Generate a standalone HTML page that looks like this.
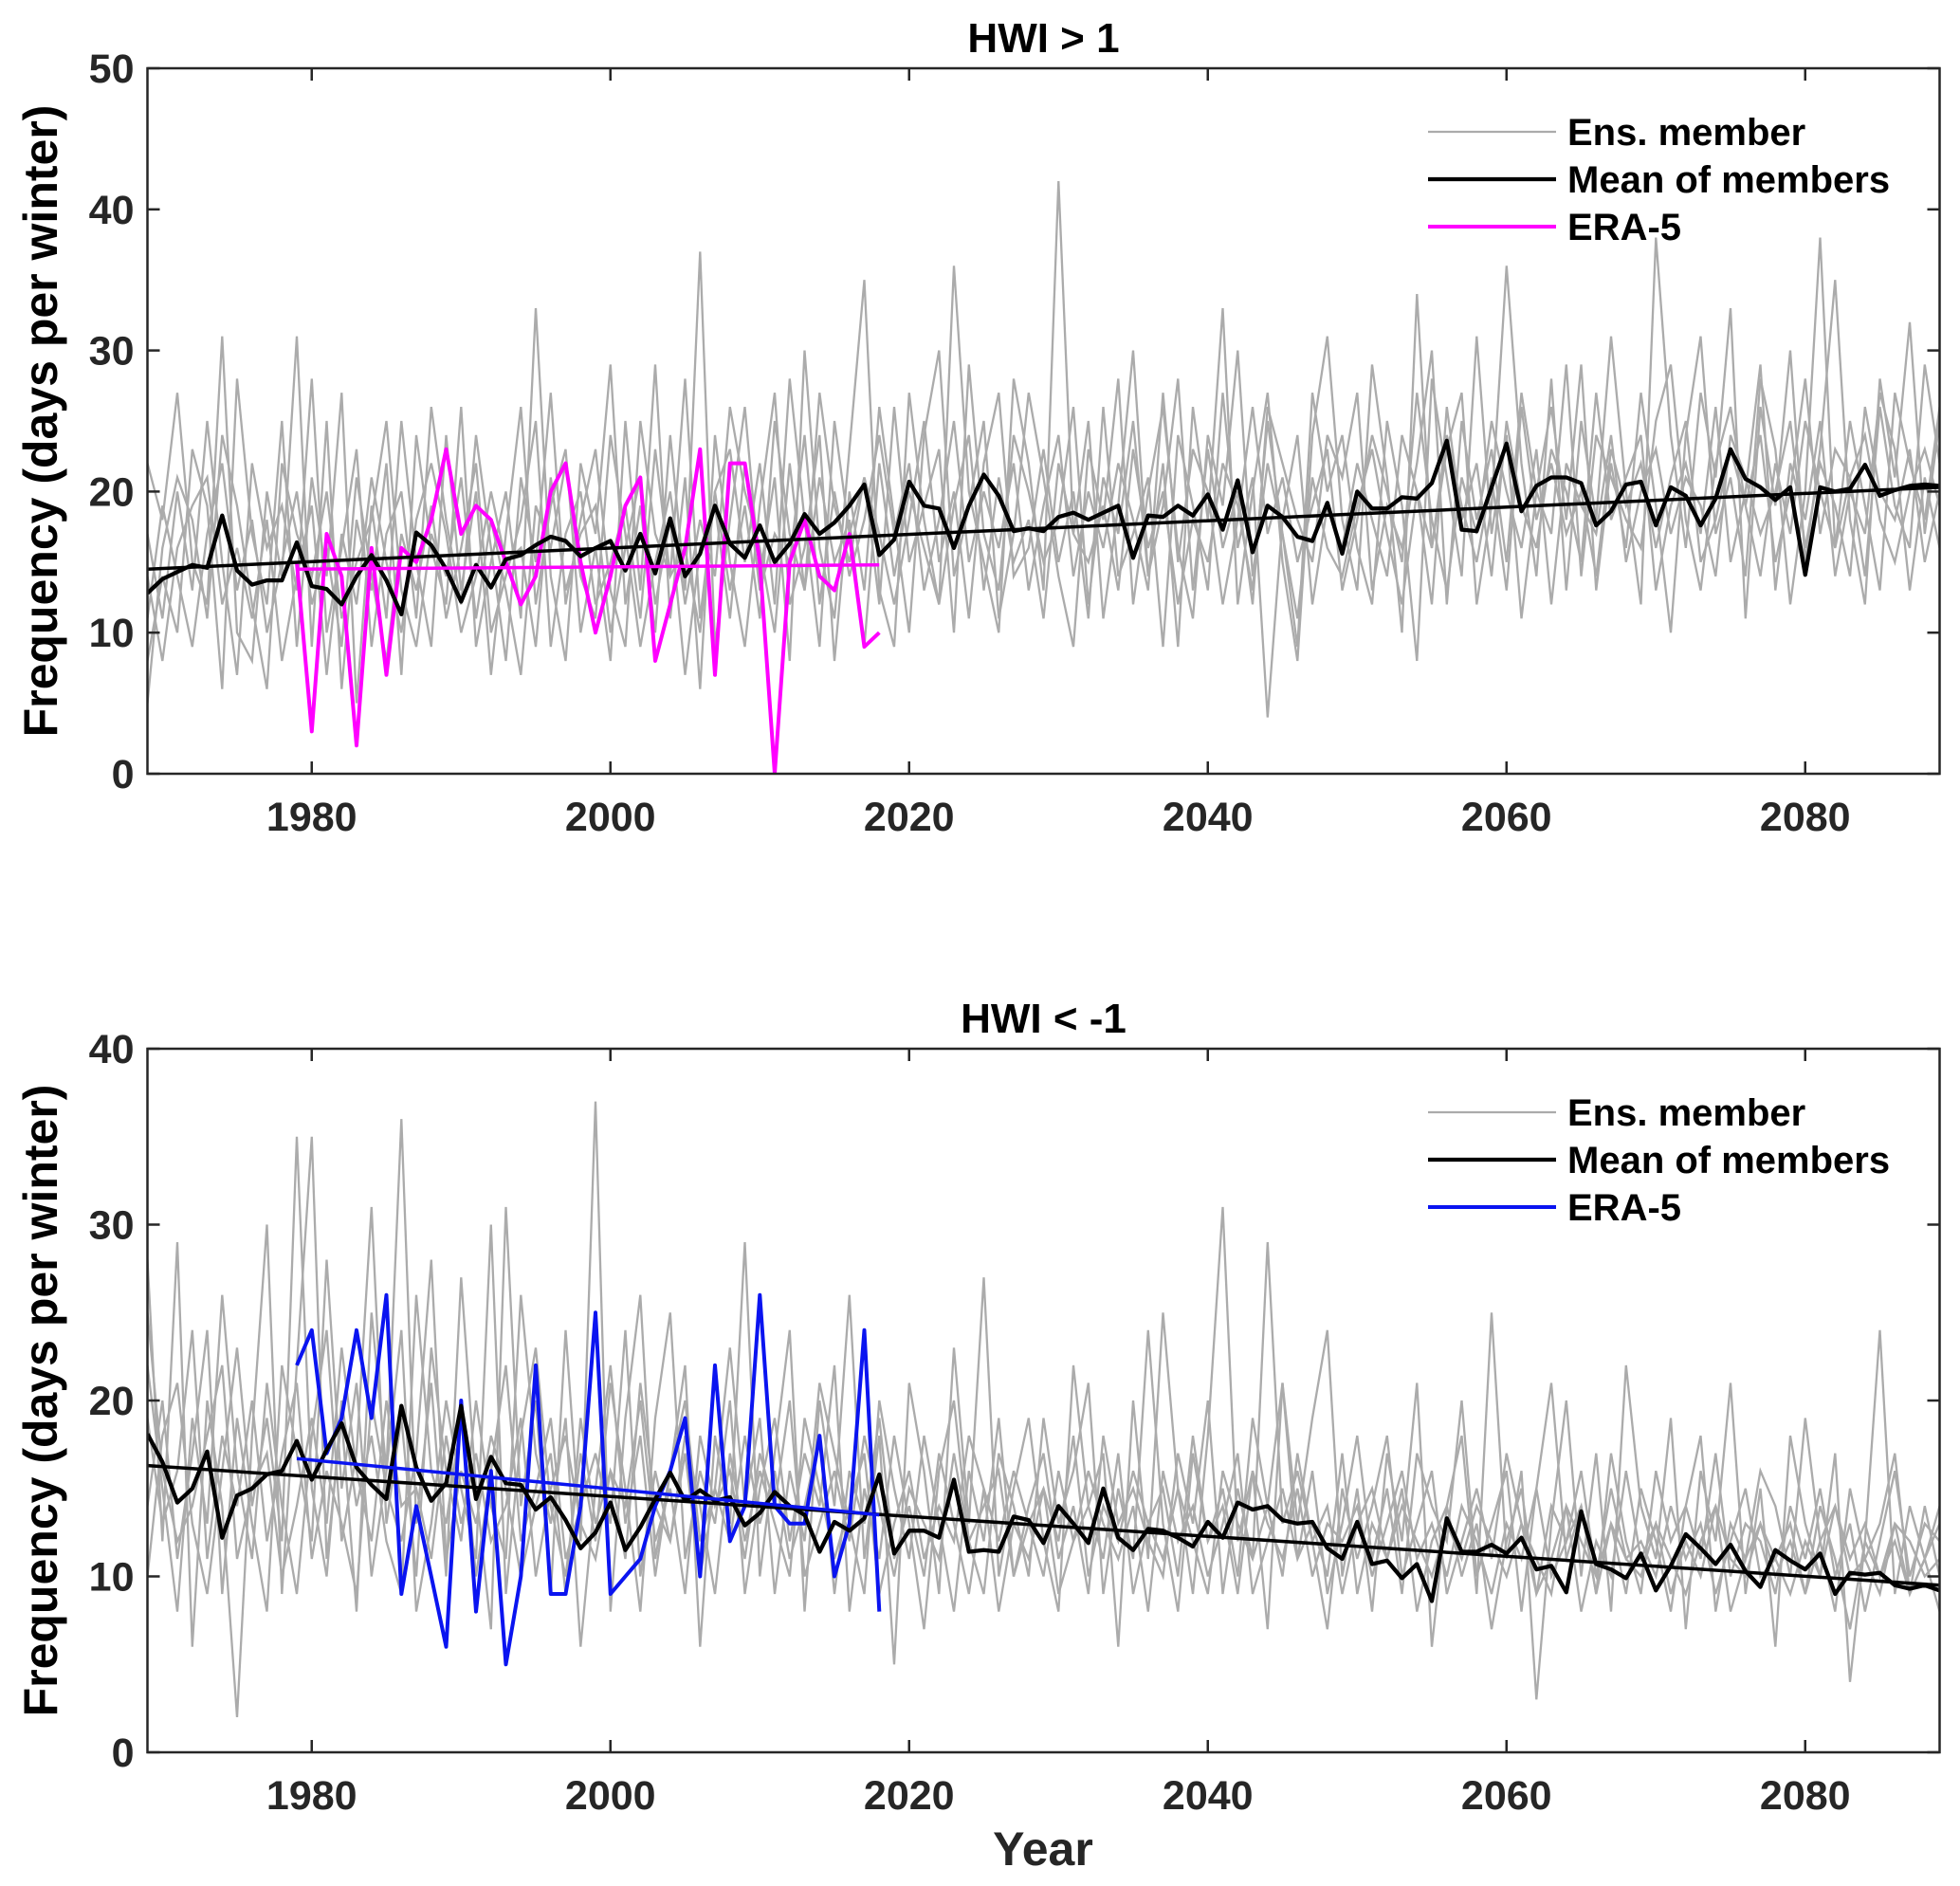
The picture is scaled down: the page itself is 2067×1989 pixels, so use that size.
<!DOCTYPE html>
<html><head><meta charset="utf-8">
<style>
html,body{margin:0;padding:0;background:#fff;}
svg{display:block;font-family:"Liberation Sans",Arial,sans-serif;font-weight:bold;}
</style></head>
<body>
<svg id="chart" width="2067" height="1989" viewBox="0 0 2067 1989" xmlns="http://www.w3.org/2000/svg">
<g id="top"></g>
<g id="bot"></g>
</svg>
<script>
// ---------- data ----------
const startYear = 1969;
const xTicks = [1980, 2000, 2020, 2040, 2060, 2080];
const topYTicks = [0, 10, 20, 30, 40, 50];
const botYTicks = [0, 10, 20, 30, 40];

const topMean = [
12.8,13.8,14.3,14.8,14.6,18.3,14.4,13.4,13.7,13.7,
16.4,13.3,13.1,12.0,14.0,15.5,13.7,11.3,17.1,16.2,
14.5,12.2,14.8,13.2,15.2,15.5,16.2,16.8,16.5,15.4,
16.0,16.5,14.4,17.0,14.2,18.1,14.0,15.6,19.0,16.3,
15.3,17.6,15.0,16.3,18.4,17.0,17.8,19.0,20.5,15.5,
16.6,20.7,19.0,18.8,16.0,19.0,21.2,19.7,17.2,17.4,
17.2,18.2,18.5,18.0,18.5,19.0,15.3,18.3,18.2,19.0,
18.3,19.8,17.3,20.8,15.7,19.0,18.2,16.8,16.5,19.2,
15.6,20.0,18.8,18.8,19.6,19.5,20.6,23.6,17.3,17.2,
20.3,23.4,18.6,20.4,21.0,21.0,20.6,17.6,18.6,20.5,
20.7,17.6,20.3,19.7,17.6,19.5,23.0,20.9,20.3,19.4,
20.3,14.1,20.3,20.0,20.2,21.9,19.7,20.1,20.4,20.5,20.4];
const topEraStart = 1979;
const topEra = [15,3,17,14,2,16,7,16,15,18,23,17,19,18,15,12,14,20,22,15,10,14,19,21,8,12,16,23,7,22,22,15,0,15,18,14,13,17,9,10];
const topMeanTrend = [14.5, 20.3];
const topEraTrend = [14.5, 14.8];

const topM1 = [22,18,27,15,12,31,10,8,20,14,31,9,25,6,18,13,22,7,24,16,
12,26,9,15,20,11,33,14,8,22,17,29,12,19,10,24,13,37,9,18,
26,14,21,8,30,16,11,23,35,13,9,27,18,12,36,20,15,10,28,22,
13,42,17,25,11,19,30,14,22,9,26,18,33,12,20,27,15,8,24,31,
18,13,29,21,10,34,16,23,27,12,19,36,22,14,28,13,25,18,31,20,
12,38,24,16,27,21,33,11,26,19,30,15,23,35,18,12,28,21,32,17,25];
const topM2 = [8,14,10,23,19,6,28,17,12,25,9,21,14,27,5,19,11,25,15,9,
24,13,20,7,17,26,12,19,23,10,16,8,25,13,29,11,21,6,24,15,
9,19,27,12,16,24,8,20,13,26,18,10,24,30,14,19,25,11,17,27,
21,14,9,23,18,28,12,20,26,16,11,24,19,30,14,22,17,9,27,20,
24,16,12,25,19,8,28,21,14,31,17,24,11,20,26,18,29,13,22,16,
27,19,10,24,31,17,21,14,28,23,12,20,38,16,25,19,13,27,22,18,26];
const topM3 = [17,11,20,13,25,15,7,22,16,19,13,28,10,16,23,9,17,20,11,26,
18,12,24,16,8,21,15,27,12,18,23,13,9,25,17,14,28,11,20,23,
15,22,12,28,18,9,25,17,21,12,26,15,19,23,10,29,17,13,24,20,
15,18,26,12,21,17,25,14,19,28,13,23,16,20,12,26,22,18,15,24,
21,27,13,19,16,22,30,12,25,18,23,15,27,20,17,29,14,24,21,18,
16,25,29,18,13,22,26,19,24,15,20,28,17,23,21,14,26,19,16,29,22];
const topM4 = [11,19,14,9,17,22,13,18,10,15,20,12,16,9,21,14,8,17,13,19,
11,16,22,10,14,18,25,9,17,20,12,15,19,11,23,14,16,10,20,13,
19,11,25,17,13,21,15,18,9,22,14,20,16,12,19,24,13,21,15,18,
11,22,17,15,19,13,23,16,20,12,18,15,22,19,13,25,17,11,21,16,
14,19,23,17,12,20,16,24,19,15,21,13,26,18,22,17,20,14,23,19,
22,16,21,25,15,18,23,19,14,22,17,25,20,16,21,24,18,15,20,23,19];
const topM5 = [5,16,21,18,11,24,19,12,6,22,17,14,20,11,15,18,25,13,9,17,
14,21,11,18,13,7,19,16,22,14,11,24,17,9,15,20,12,18,14,26,
20,16,10,22,13,27,19,15,21,17,12,18,25,15,20,11,22,27,14,16,
23,15,20,11,26,14,17,21,9,24,19,13,27,16,21,4,18,24,12,19,
16,22,18,14,24,20,12,26,18,22,14,25,19,16,23,20,15,27,18,21,
24,13,19,22,17,26,15,20,29,13,22,18,25,14,20,17,27,23,13,21,16];
const topM6 = [14,8,16,19,21,12,16,11,18,8,14,19,7,17,12,21,15,10,18,22,
17,10,14,20,15,16,9,21,13,17,19,10,16,21,12,18,7,16,19,11,
22,13,17,15,24,12,20,14,18,24,17,22,13,18,25,15,20,16,22,13,
19,24,14,20,16,22,18,13,27,15,23,20,12,18,26,17,21,15,19,23,
13,18,24,20,15,27,18,13,21,17,25,20,16,23,12,22,19,17,24,15,
20,23,17,21,19,14,24,21,17,20,25,16,22,19,14,26,20,18,23,15,20];
const topMembers = [topM1, topM2, topM3, topM4, topM5, topM6];

const botMean = [
18.1,16.5,14.2,15.0,17.1,12.2,14.6,15.0,15.8,16.0,
17.7,15.5,17.2,18.7,16.2,15.2,14.4,19.7,16.2,14.3,
15.3,19.7,14.4,16.8,15.3,15.2,13.8,14.5,13.2,11.6,
12.5,14.2,11.5,12.8,14.4,15.9,14.3,14.9,14.3,14.5,
12.9,13.6,14.8,14.0,13.5,11.4,13.1,12.6,13.3,15.8,
11.3,12.6,12.6,12.2,15.5,11.4,11.5,11.4,13.4,13.2,
11.9,14.0,13.0,11.9,15.0,12.2,11.5,12.7,12.6,12.2,
11.7,13.1,12.2,14.2,13.8,14.0,13.2,13.0,13.1,11.6,
11.0,13.1,10.7,10.9,9.9,10.7,8.6,13.3,11.4,11.4,
11.8,11.3,12.2,10.4,10.6,9.1,13.7,10.7,10.4,9.9,
11.3,9.2,10.6,12.4,11.6,10.7,11.8,10.3,9.4,11.5,
10.9,10.4,11.3,9.0,10.2,10.1,10.2,9.5,9.3,9.5,9.2];
const botEraStart = 1979;
const botEra = [22,24,17,19,24,19,26,9,14,10,6,20,8,16,5,10,22,9,9,14,25,9,10,11,14,16,19,10,22,12,14,26,14,13,13,18,10,13,24,8];
const botMeanTrend = [16.3, 9.5];
const botEraTrend = [16.7, 13.5];

const botM1 = [28,12,29,6,20,14,2,18,30,9,22,35,11,19,8,25,16,36,13,21,
10,27,15,7,31,14,20,9,24,12,37,8,19,26,11,16,22,6,18,13,
29,10,17,24,8,20,14,26,11,18,5,21,16,9,23,13,27,10,15,19,
12,8,22,14,17,6,20,11,25,15,9,18,31,12,16,7,21,13,19,24,
10,15,8,17,12,21,6,14,18,9,25,11,16,3,13,20,10,17,8,22,
14,11,19,7,16,12,21,9,15,6,18,13,10,17,4,12,24,9,14,11,8];
const botM2 = [14,20,11,17,24,9,19,13,8,22,17,12,28,15,21,10,16,24,8,13,
20,15,11,30,9,18,23,14,10,17,12,21,15,8,19,25,11,16,13,20,
9,15,19,12,17,14,22,8,15,11,18,13,7,16,20,12,9,17,14,10,
19,13,16,21,9,15,11,24,13,8,17,12,15,10,19,14,21,11,16,9,
13,18,11,15,9,17,14,12,20,10,13,16,8,15,21,11,14,9,17,12,
9,16,12,14,18,8,13,11,16,14,10,19,12,8,15,11,13,17,9,14,10];
const botM3 = [22,15,8,19,13,26,16,11,21,14,9,18,24,12,17,31,13,19,10,23,
16,12,20,14,11,26,17,13,19,6,15,22,13,18,10,16,20,12,15,23,
14,19,9,16,12,21,17,13,9,20,15,11,18,13,8,16,12,19,10,14,
17,11,14,9,18,13,15,12,10,17,13,20,9,15,11,29,13,16,12,7,
15,11,14,18,10,13,16,9,12,15,11,17,13,9,14,12,16,10,13,9,
15,12,8,14,11,17,10,13,12,9,14,11,15,10,13,8,12,16,10,13,12];
const botM4 = [10,18,21,13,9,16,23,14,19,12,35,15,10,20,14,18,12,9,26,16,
13,19,10,16,22,12,15,19,11,14,17,13,24,10,16,12,18,14,9,17,
12,16,13,10,19,15,11,14,17,9,13,16,11,14,12,18,15,8,13,11,
15,9,12,16,13,11,14,8,16,12,14,10,13,17,9,12,15,11,13,10,
17,9,13,11,15,8,12,14,10,13,7,12,15,9,11,14,8,12,10,16,
11,13,9,12,10,14,8,11,13,10,12,9,14,11,7,12,10,13,9,11,14];
const botM5 = [19,13,16,24,11,18,14,20,12,17,21,11,16,13,9,20,15,12,17,28,
11,16,13,18,15,10,14,17,9,19,13,16,11,21,14,12,17,10,15,12,
18,13,16,11,14,18,9,16,13,19,11,14,10,17,13,9,15,12,16,13,
10,16,12,14,11,17,9,13,15,10,18,12,14,9,16,13,11,15,10,13,
12,14,10,13,16,11,13,10,14,12,9,13,11,15,10,12,14,9,13,11,
12,10,14,11,13,9,12,15,10,11,13,9,12,14,10,11,9,13,12,10,11];
const botM6 = [25,16,12,14,18,22,11,15,17,10,14,19,13,23,16,12,20,14,15,11,
18,13,17,12,14,19,10,15,18,13,11,16,14,20,12,15,9,18,14,16,
11,17,14,20,10,13,16,12,18,14,10,15,13,11,17,12,14,16,10,13,
15,12,18,10,14,12,16,13,11,15,12,9,16,13,11,14,10,17,12,14,
9,13,15,11,14,12,10,13,11,14,12,10,13,11,9,14,12,10,15,11,
10,13,11,9,12,14,11,10,13,11,9,12,10,14,11,13,10,12,9,11,13];
const botMembers = [botM1, botM2, botM3, botM4, botM5, botM6];

// ---------- layout ----------
const NS = "http://www.w3.org/2000/svg";
const xMin = 1969, xMax = 2089;
function mk(parent, tag, attrs, text){
  const e = document.createElementNS(NS, tag);
  for (const k in attrs) e.setAttribute(k, attrs[k]);
  if (text !== undefined) e.textContent = text;
  parent.appendChild(e);
  return e;
}

function drawPanel(g, cfg){
  const L = 155.5, R = 2045.5, T = cfg.top, B = cfg.bottom;
  const xs = yr => L + (yr - xMin) / (xMax - xMin) * (R - L);
  const ys = v => B - v / cfg.yMax * (B - T);
  const cp = "clip-" + g.id;
  const defs = mk(g, "defs", {});
  const c = mk(defs, "clipPath", {id: cp});
  mk(c, "rect", {x: L, y: T, width: R - L, height: B - T});
  const plot = mk(g, "g", {"clip-path": "url(#" + cp + ")"});
  
  

  const pts = (arr, start) => arr.map((v, i) => xs(start + i).toFixed(1) + "," + ys(v).toFixed(1)).join(" ");

  cfg.members.forEach((m, k) => {
    const p = mk(plot, "polyline", {points: pts(m, startYear), fill: "none", stroke: "#ababab", "stroke-width": 2.3});
    
    
  });
  const era = mk(plot, "polyline", {points: pts(cfg.era, cfg.eraStart), fill: "none", stroke: cfg.eraColor, "stroke-width": 4, "stroke-linejoin": "round"});
  
  
  const mean = mk(plot, "polyline", {points: pts(cfg.mean, startYear), fill: "none", stroke: "#000", "stroke-width": 4.3, "stroke-linejoin": "round"});
  
  
  const t1 = mk(plot, "line", {x1: xs(startYear), y1: ys(cfg.meanTrend[0]), x2: xs(startYear + cfg.mean.length - 1), y2: ys(cfg.meanTrend[1]), stroke: "#000", "stroke-width": 3.5});
  
  
  const t2 = mk(plot, "line", {x1: xs(cfg.eraStart), y1: ys(cfg.eraTrend[0]), x2: xs(cfg.eraStart + cfg.era.length - 1), y2: ys(cfg.eraTrend[1]), stroke: cfg.eraColor, "stroke-width": 3.5});
  
  

  // axes box
  const box = mk(g, "rect", {x: L, y: T, width: R - L, height: B - T, fill: "none", stroke: "#262626", "stroke-width": 2.5});
  
  
  const tl = 13;
  xTicks.forEach(t => {
    const x = xs(t);
    mk(g, "line", {x1: x, y1: B, x2: x, y2: B - tl, stroke: "#262626", "stroke-width": 2.5});
    mk(g, "line", {x1: x, y1: T, x2: x, y2: T + tl, stroke: "#262626", "stroke-width": 2.5});
    const lab = mk(g, "text", {x: x, y: B + 60, "text-anchor": "middle", "font-size": 43, fill: "#262626"}, String(t));
    
    
  });
  cfg.yTicks.forEach(t => {
    const y = ys(t);
    mk(g, "line", {x1: L, y1: y, x2: L + tl, y2: y, stroke: "#262626", "stroke-width": 2.5});
    mk(g, "line", {x1: R, y1: y, x2: R - tl, y2: y, stroke: "#262626", "stroke-width": 2.5});
    const lab = mk(g, "text", {x: L - 14, y: y + 15, "text-anchor": "end", "font-size": 43, fill: "#262626"}, String(t));
    
    
  });
  const title = mk(g, "text", {x: (L + R) / 2, y: T - 17, "text-anchor": "middle", "font-size": 44, fill: "#000"}, cfg.title);
  
  
  const yl = mk(g, "text", {x: 0, y: 0, "text-anchor": "middle", "font-size": 50, fill: "#000", transform: "translate(60," + ((T + B) / 2) + ") rotate(-90)"}, "Frequency (days per winter)");
  
  

  // legend
  const leg = mk(g, "g", {});
  
  
  const items = [["Ens. member", "#ababab", 2.3], ["Mean of members", "#000", 4.3], ["ERA-5", cfg.eraColor, 4]];
  items.forEach((it, i) => {
    const y = T + 67 + i * 50;
    mk(leg, "line", {x1: 1506, y1: y, x2: 1641, y2: y, stroke: it[1], "stroke-width": it[2]});
    const tx = mk(leg, "text", {x: 1653, y: y + 14, "font-size": 40, fill: "#000"}, it[0]);
    
    
  });
}

drawPanel(document.getElementById("top"), {top: 72, bottom: 816, yMax: 50, yTicks: topYTicks, title: "HWI > 1",
  members: topMembers, mean: topMean, era: topEra, eraStart: topEraStart, eraColor: "#ff00ff",
  meanTrend: topMeanTrend, eraTrend: topEraTrend});
drawPanel(document.getElementById("bot"), {top: 1106, bottom: 1848, yMax: 40, yTicks: botYTicks, title: "HWI < -1",
  members: botMembers, mean: botMean, era: botEra, eraStart: botEraStart, eraColor: "#0a14f0",
  meanTrend: botMeanTrend, eraTrend: botEraTrend});

const svg = document.getElementById("chart");
const xl = mk(svg, "text", {x: 1100, y: 1967, "text-anchor": "middle", "font-size": 50, fill: "#262626"}, "Year");


</script>
</body></html>
